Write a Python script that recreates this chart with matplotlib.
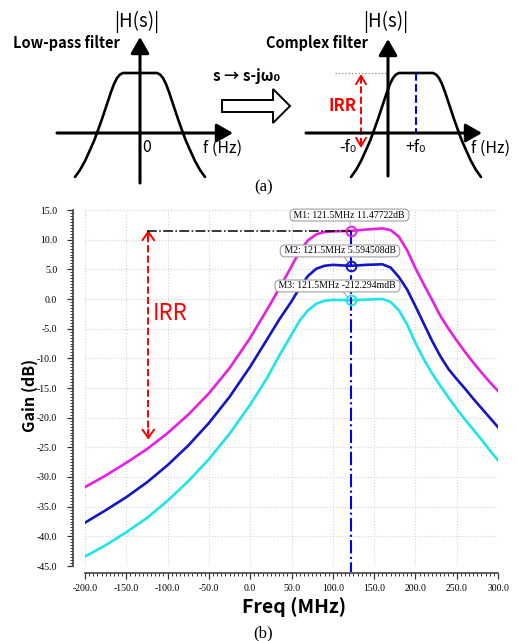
import numpy as np
import matplotlib
matplotlib.use("Agg")
import matplotlib.pyplot as plt
from matplotlib.patches import FancyArrow
from matplotlib.ticker import MultipleLocator, FormatStrFormatter

plt.rcParams['font.family'] = ['Liberation Serif', 'DejaVu Serif']
plt.rcParams['axes.unicode_minus'] = False
SANS = ['Noto Sans CJK KR', 'DejaVu Sans']

# ---- data: measured gain curves (MHz, dB) ----
m1_freq = [-200, -175, -150, -125, -100, -75, -50, -25, 0, 25, 40, 50, 60, 70, 80, 90,
           100, 121.5, 140, 160, 170, 180, 190, 200, 210, 220, 230, 240, 250, 260, 270,
           280, 290, 300]
m1_gain = [-31.7, -29.75, -27.6, -25.3, -22.6, -19.5, -15.9, -11.65, -6.55, -0.7, 3.0, 5.5,
           8.1, 9.9, 10.9, 11.3, 11.4, 11.48, 11.7, 11.9, 11.6, 10.5, 8.2, 5.2, 2.5, -0.1,
           -2.8, -5.0, -7.0, -8.9, -10.7, -12.4, -14.0, -15.5]

m2_freq = [-200, -175, -150, -125, -100, -75, -50, -25, 0, 20, 35, 50, 60, 70, 80, 90,
           100, 121.5, 140, 160, 170, 180, 190, 200, 210, 220, 230, 240, 250, 260, 270,
           280, 290, 300]
m2_gain = [-37.7, -35.6, -33.4, -30.9, -28.0, -24.7, -20.9, -16.5, -11.4, -6.9, -3.5, -0.4,
           1.9, 3.9, 5.1, 5.6, 5.75, 5.59, 5.75, 5.85, 5.3, 3.7, 1.6, -1.2, -4.1, -7.0,
           -9.6, -11.8, -13.5, -15.1, -16.8, -18.4, -20.0, -21.6]

m3_freq = [-200, -175, -150, -125, -100, -75, -50, -25, 0, 20, 35, 50, 60, 70, 80, 90,
           100, 121.5, 140, 160, 170, 180, 190, 200, 210, 220, 230, 240, 250, 260, 270,
           280, 290, 300]
m3_gain = [-43.4, -41.5, -39.3, -36.9, -34.0, -30.7, -27.0, -22.7, -17.8, -13.4, -9.6, -6.0,
           -3.6, -1.9, -0.8, -0.3, -0.15, -0.21, -0.1, 0.0, -0.5, -1.9, -4.3, -7.4, -10.1,
           -12.5, -14.6, -16.6, -18.5, -20.3, -22.0, -23.7, -25.5, -27.2]

marker_freq = 121.5
marker_gain = [11.47722, 5.594508, -0.212294]
marker_text = ['M1: 121.5MHz 11.47722dB', 'M2: 121.5MHz 5.594508dB',
               'M3: 121.5MHz -212.294mdB']
colors = ['#e61ee6', '#1414c8', '#1ee6e6']

# ---- data: schematic filter shape (arbitrary units) ----
lp_f = [-65, -60, -55, -50, -46, -43, -38, -33, -29, -26, -23, -20, -17,
        17, 20, 23, 26, 29, 33, 38, 43, 46, 50, 55, 60, 65]
lp_h = [-44, -37, -28, -17, -8, 0, 14, 29, 41, 49, 55, 58.5, 60,
        60, 58.5, 55, 49, 41, 29, 14, 0, -8, -17, -28, -37, -44]
f0 = 28

W, H = 518, 641
fig = plt.figure(figsize=(W / 100, H / 100), dpi=100)

# overlay axes in pixel coordinates for panel (a) and captions
ov = fig.add_axes([0, 0, 1, 1])
ov.set_xlim(0, W)
ov.set_ylim(H, 0)
ov.axis('off')

def arrow_axis(x0, y0, x1, y1):
    ov.annotate('', xy=(x1, y1), xytext=(x0, y0),
                arrowprops=dict(arrowstyle='-|>,head_length=0.7,head_width=0.4',
                                lw=2.2, color='black', shrinkA=0, shrinkB=0,
                                mutation_scale=14))

lp_f = np.array(lp_f, float)
lp_h = np.array(lp_h, float)

# low-pass diagram
ox, oy = 140, 133
arrow_axis(57, oy, 233, oy)
arrow_axis(ox, 183, ox, 37)
ov.plot(ox + lp_f, oy - lp_h, color='black', lw=1.9, solid_capstyle='round')
ov.text(137, 22, '|H(s)|', ha='center', va='center', fontsize=13.5, family=SANS)
ov.text(13, 43, 'Low-pass filter', ha='left', va='center', fontsize=10.5,
        fontweight='bold', family=SANS)
ov.text(147, 147, '0', ha='center', va='center', fontsize=11.5, family=SANS)
ov.text(203, 148, 'f (Hz)', ha='left', va='center', fontsize=11.5, family=SANS)

# transform arrow
ov.text(247, 76, 's \u2192 s-j\u03c9\u2080', ha='center', va='center',
        fontsize=11, fontweight='bold', family=SANS)
ov.add_patch(FancyArrow(222, 106, 68, 0, width=12, head_width=34, head_length=17,
                        length_includes_head=True, fc='white', ec='black', lw=1.4))

# complex filter diagram
cx, cy = 388, 133
arrow_axis(306, cy, 482, cy)
arrow_axis(cx, 176, cx, 39)
ov.plot(cx + lp_f + f0, cy - lp_h, color='black', lw=1.9, solid_capstyle='round')
ov.plot([cx + f0, cx + f0], [cy - lp_h.max(), cy], color='blue', lw=1.5, ls='--')
ov.plot([cx - 53, cx], [cy - lp_h.max(), cy - lp_h.max()], color='gray', lw=0.9, ls=':')
ov.plot([cx - 27, cx - 27], [cy - 57, cy + 13], color='red', lw=1.4, ls='--')
for y0, y1 in [(cy - 50, cy - 59), (cy + 6, cy + 15)]:
    ov.annotate('', xy=(cx - 27, y1), xytext=(cx - 27, y0),
                arrowprops=dict(arrowstyle='->,head_length=0.5,head_width=0.3',
                                lw=1.4, color='red', shrinkA=0, shrinkB=0,
                                mutation_scale=12))
ov.text(386, 22, '|H(s)|', ha='center', va='center', fontsize=13.5, family=SANS)
ov.text(266, 43, 'Complex filter', ha='left', va='center', fontsize=10.5,
        fontweight='bold', family=SANS)
ov.text(343, 106, 'IRR', ha='center', va='center', fontsize=12, fontweight='bold',
        color='red', family=SANS)
ov.text(348, 147, '-f\u2080', ha='center', va='center', fontsize=11.5, family=SANS)
ov.text(416, 147, '+f\u2080', ha='center', va='center', fontsize=11.5, family=SANS)
ov.text(471, 148, 'f (Hz)', ha='left', va='center', fontsize=11.5, family=SANS)
ov.text(264, 187, '(a)', ha='center', va='center', fontsize=12)

# ---- panel (b): measured gain ----
ax = fig.add_axes([85 / W, 75 / H, 413 / W, 356 / H])
for fr, g, c in zip([m1_freq, m2_freq, m3_freq], [m1_gain, m2_gain, m3_gain], colors):
    ax.plot(fr, g, color=c, lw=1.9, zorder=3, solid_joinstyle='round')

ax.set_xlim(-200, 300)
ax.set_ylim(-45, 15)
ax.xaxis.set_major_locator(MultipleLocator(50))
ax.xaxis.set_minor_locator(MultipleLocator(5))
ax.yaxis.set_major_locator(MultipleLocator(5))
ax.yaxis.set_minor_locator(MultipleLocator(0.5))
ax.xaxis.set_major_formatter(FormatStrFormatter('%.1f'))
ax.yaxis.set_major_formatter(FormatStrFormatter('%.1f'))
ax.grid(True, which='major', color='#d4d4d4', ls=':', lw=0.8)
for s in ['top', 'right']:
    ax.spines[s].set_visible(False)
ax.spines['left'].set_position(('outward', 9))
ax.spines['bottom'].set_position(('outward', 5))
for s in ['left', 'bottom']:
    ax.spines[s].set_color('#333333')
    ax.spines[s].set_linewidth(1.1)
ax.tick_params(which='major', length=4, width=0.9, colors='#333333', labelsize=7,
               labelcolor='black')
ax.tick_params(axis='y', which='major', pad=7)
ax.tick_params(axis='x', which='major', pad=4)
ax.tick_params(which='minor', length=2.2, width=0.7, colors='#333333')

# reference lines
ax.plot([marker_freq, marker_freq], [marker_gain[0], -46], color='blue', lw=1.5,
        ls='-.', clip_on=False, zorder=4)
ax.plot([-125, marker_freq], [marker_gain[0], marker_gain[0]], color='black', lw=1.1,
        ls='-.', zorder=4)
irr_x = -123.4
ax.plot([irr_x, irr_x], [10.8, -22.8], color='red', lw=1.4, ls='--', zorder=4)
for y0, y1 in [(10.0, 11.6), (-22.0, -23.7)]:
    ax.annotate('', xy=(irr_x, y1), xytext=(irr_x, y0),
                arrowprops=dict(arrowstyle='->,head_length=0.5,head_width=0.35',
                                lw=1.4, color='red', shrinkA=0, shrinkB=0,
                                mutation_scale=12))
ax.text(-117.5, -2.4, 'IRR', ha='left', va='center', fontsize=16, color='red',
        family=SANS)

# markers and their labels
label_pos = [(120.2, 14.15), (108.7, 8.1), (105.7, 2.2)]
for g, t, c, (tx, ty) in zip(marker_gain, marker_text, colors, label_pos):
    ax.plot(marker_freq, g, 'o', ms=7, mfc='none', mec=c, mew=1.4, zorder=5)
    ax.annotate(' ' + t + ' ', xy=(marker_freq, g), xytext=(tx, ty), ha='center',
                va='center', fontsize=7, annotation_clip=False,
                bbox=dict(boxstyle='round,pad=0.15,rounding_size=0.5', fc='white',
                          ec='#a0a0a0', lw=0.8),
                arrowprops=dict(arrowstyle='-', color='#a0a0a0', lw=0.7,
                                shrinkA=0, shrinkB=3), zorder=6)

fig.text(30 / W, 1 - 395 / H, 'Gain (dB)', rotation=90, ha='center', va='center',
         fontsize=11.5, fontweight='bold', family=SANS)
fig.text(294 / W, 1 - 607 / H, 'Freq (MHz)', ha='center', va='center',
         fontsize=14, fontweight='bold', family=SANS)
fig.text(263 / W, 1 - 633 / H, '(b)', ha='center', va='center', fontsize=12)

fig.savefig('out.png', dpi=100)
